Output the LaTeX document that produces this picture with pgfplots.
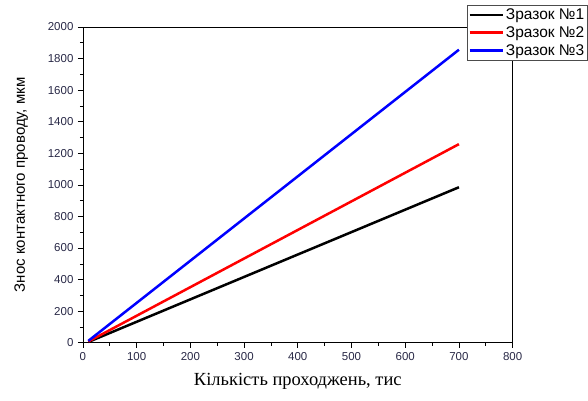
\documentclass[border=0pt]{standalone}
\usepackage{pgfplots}
\pgfplotsset{compat=1.18}
\usepackage{fontspec}
\setmainfont{Liberation Sans}
\newfontfamily\seriffont{Liberation Serif}
\definecolor{ticktxt}{RGB}{40,40,70}
\begin{document}
\begin{tikzpicture}[x=1pt,y=1pt]
\begin{axis}[
  scale only axis,
  width=430pt, height=316pt,
  xmin=0, xmax=800, ymin=0, ymax=2000,
  xtick={0,100,...,800}, ytick={0,200,...,2000},
  minor x tick num=1, minor y tick num=1,
  tick align=outside,
  xtick pos=bottom, ytick pos=left,
  major tick length=5pt, minor tick length=3pt,
  tick style={black, line width=0.6pt},
  axis line style={line width=0.6pt},
  /pgf/number format/assume math mode=true,
  /pgf/number format/1000 sep={},
  ticklabel style={font=\fontsize{11.5}{13}\selectfont, text=ticktxt},
  xticklabel style={yshift=-1pt},
  yticklabel style={xshift=-1pt},
  xlabel={\seriffont Кількість проходжень, тис},
  xlabel style={font=\fontsize{18.5}{20}\selectfont, yshift=-6pt},
  ylabel={Знос контактного проводу, мкм},
  ylabel style={font=\fontsize{15}{16}\selectfont, yshift=13pt},
  legend style={at={(0.893,1.07)}, anchor=north west, draw=black!70, line width=0.6pt,
     font=\fontsize{15.5}{16}\selectfont, inner sep=1.5pt, row sep=1.5pt, fill=white},
  legend cell align=left,
  legend image code/.code={\draw[#1, line width=2.5pt] (0pt,0pt) -- (33pt,0pt);},
  clip=false,
]
\addplot[black, line width=2.5pt] coordinates {(10,5) (700,985)};
\addplot[red, line width=2.5pt] coordinates {(10,8) (700,1258)};
\addplot[blue, line width=2.5pt] coordinates {(10,12) (700,1856)};
\legend{Зразок №1, Зразок №2, Зразок №3}
\end{axis}
\useasboundingbox (-83pt,-58pt) rectangle (505pt,343pt);
\end{tikzpicture}
\end{document}
